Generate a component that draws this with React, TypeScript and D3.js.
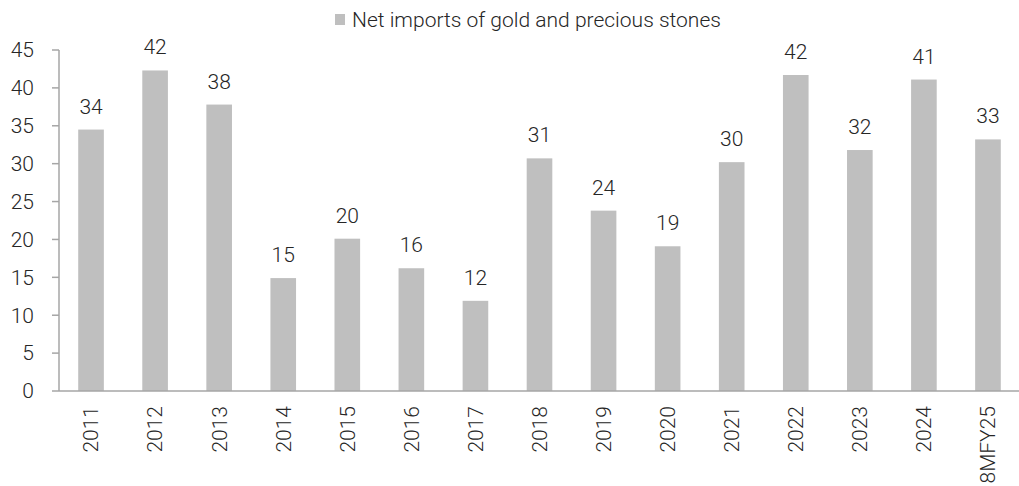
import React from "react";
import * as d3 from "d3";

const categories = ["2011","2012","2013","2014","2015","2016","2017","2018","2019","2020","2021","2022","2023","2024","8MFY25"];
const values = [34.5, 42.3, 37.8, 14.9, 20.1, 16.2, 11.9, 30.7, 23.8, 19.1, 30.2, 41.7, 31.8, 41.1, 33.2];
const labels = ["34","42","38","15","20","16","12","31","24","19","30","42","32","41","33"];
const yTicks = [0, 5, 10, 15, 20, 25, 30, 35, 40, 45];
const seriesName = "Net imports of gold and precious stones";

const W = 1019, H = 486;
const left = 59, right = 1020, top = 50, bottom = 391;
const FONT = "Roboto, 'Noto Sans', sans-serif";
const BAR = "#bfbfbf";
const AXIS = "#a6a6a6";
const TEXT = "#262626";
const FS = 21;

export default function App() {
  const x = d3.scaleBand<string>().domain(categories).range([left, right]).paddingInner(0.6).paddingOuter(0.3);
  const y = d3.scaleLinear().domain([0, 45]).range([bottom, top]);
  return (
    <svg width={W} height={H} style={{ position: "absolute", left: 0, top: 0, background: "#fff" }}>
      <g fontFamily={FONT} fontWeight={300}>
        {/* legend */}
        <rect x={335} y={14} width={10} height={11} fill={BAR} />
        <text x={352} y={27} fontSize={FS} fill={TEXT}>{seriesName}</text>
        {/* bars */}
        {categories.map((c, i) => (
          <rect key={c} x={x(c)} y={y(values[i])} width={x.bandwidth()} height={y(0) - y(values[i])} fill={BAR} />
        ))}
        {/* data labels */}
        {categories.map((c, i) => (
          <text key={c} x={(x(c) as number) + x.bandwidth() / 2} y={y(values[i]) - 16} fontSize={FS} fill={TEXT} textAnchor="middle">{labels[i]}</text>
        ))}
        {/* y axis */}
        <line x1={left} x2={left} y1={y(45)} y2={y(0)} stroke={AXIS} strokeWidth={1.5} />
        {yTicks.map(t => (
          <g key={t}>
            <line x1={52} x2={left} y1={y(t)} y2={y(t)} stroke={AXIS} strokeWidth={1.5} />
            <text x={34} y={y(t)} dy="0.35em" fontSize={FS} fill={TEXT} textAnchor="end">{t}</text>
          </g>
        ))}
        {/* x axis */}
        <line x1={left} x2={W} y1={y(0)} y2={y(0)} stroke={AXIS} strokeWidth={1.5} />
        {categories.map(c => {
          const cx = (x(c) as number) + x.bandwidth() / 2;
          return (
            <text key={c} transform={`translate(${cx},${406}) rotate(-90)`} dy="0.35em" fontSize={FS} fill={TEXT} textAnchor="end">{c}</text>
          );
        })}
      </g>
    </svg>
  );
}
